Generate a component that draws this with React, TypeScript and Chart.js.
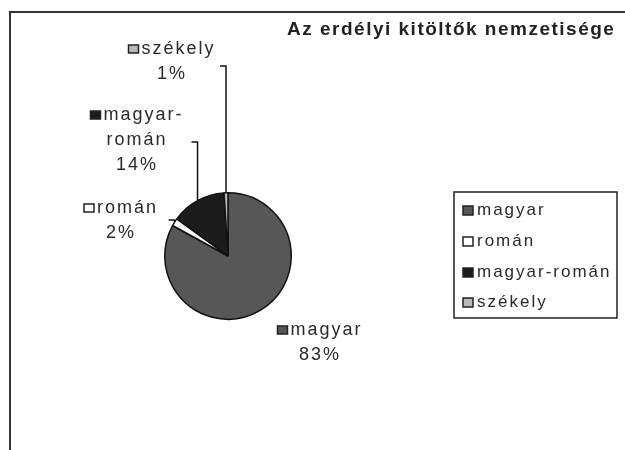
import { useEffect, useRef } from "react";
import { Chart, registerables } from "chart.js";

Chart.register(...registerables);

const categories = ["magyar", "román", "magyar-román", "székely"];
const shares = [83, 2, 14, 1];
const sliceColors = ["#575757", "#ffffff", "#1c1c1c", "#b8b8b8"];
const titleText = "Az erdélyi kitöltők nemzetisége";

const labelPlacement = [
  { cx: 320, y: 330, ey: null as number | null },
  { cx: 121, y: 208, ey: 220 as number | null },
  { cx: 137, y: 115, ey: 142 as number | null },
  { cx: 172, y: 49, ey: 66 as number | null },
];

const FONT = "'Liberation Sans', Arial, sans-serif";

const decor = {
  id: "decor",
  afterDraw(chart: any) {
    const ctx: CanvasRenderingContext2D = chart.ctx;
    ctx.save();
    // outer frame
    ctx.strokeStyle = "#333";
    ctx.lineWidth = 2;
    ctx.strokeRect(10, 12, 700, 500);

    // title
    ctx.fillStyle = "#222";
    ctx.textBaseline = "middle";
    ctx.textAlign = "left";
    ctx.font = `bold 19px ${FONT}`;
    (ctx as any).letterSpacing = "1.5px";
    ctx.fillText(titleText, 287, 30);

    // slice labels
    const meta = chart.getDatasetMeta(0);
    const total = shares.reduce((a, b) => a + b, 0);
    ctx.font = `18px ${FONT}`;
    (ctx as any).letterSpacing = "2px";
    meta.data.forEach((arc: any, i: number) => {
      const { startAngle, endAngle, outerRadius, x, y } = arc.getProps(
        ["startAngle", "endAngle", "outerRadius", "x", "y"],
        true
      );
      const mid = (startAngle + endAngle) / 2;
      const ax = x + Math.cos(mid) * outerRadius;
      const ay = y + Math.sin(mid) * outerRadius;
      const p = labelPlacement[i];
      ctx.strokeStyle = "#111";
      ctx.lineWidth = 1.5;
      if (p.ey !== null) {
        ctx.beginPath();
        ctx.moveTo(ax, ay);
        ctx.lineTo(ax, p.ey);
        ctx.lineTo(ax - 6, p.ey);
        ctx.stroke();
      }
      const name = categories[i];
      const hy = name.indexOf("-");
      const parts = hy >= 0 ? [name.slice(0, hy + 1), name.slice(hy + 1)] : [name];
      const pct = Math.round((shares[i] / total) * 100) + "%";
      const lines = [...parts, pct];
      const sq = 10;
      const gap = 3;
      const w0 = ctx.measureText(lines[0]).width;
      const left = p.cx - (sq + gap + w0) / 2;
      ctx.fillStyle = sliceColors[i];
      ctx.fillRect(left, p.y - 4, sq, 8);
      ctx.lineWidth = 1.5;
      ctx.strokeStyle = "#222";
      ctx.strokeRect(left, p.y - 4, sq, 8);
      ctx.fillStyle = "#2a2a2a";
      ctx.textAlign = "left";
      ctx.fillText(lines[0], left + sq + gap, p.y);
      ctx.textAlign = "center";
      for (let k = 1; k < lines.length; k++) {
        ctx.fillText(lines[k], p.cx, p.y + k * 25);
      }
    });

    // legend
    ctx.strokeStyle = "#222";
    ctx.lineWidth = 1.5;
    ctx.strokeRect(454, 192, 163, 126);
    ctx.font = `17px ${FONT}`;
    (ctx as any).letterSpacing = "2px";
    ctx.textAlign = "left";
    const rowY = [210, 241, 272, 302];
    categories.forEach((c, i) => {
      ctx.fillStyle = sliceColors[i];
      ctx.fillRect(463, rowY[i] - 4, 10, 9);
      ctx.strokeStyle = "#222";
      ctx.strokeRect(463, rowY[i] - 4, 10, 9);
      ctx.fillStyle = "#2a2a2a";
      ctx.fillText(c, 477, rowY[i]);
    });
    ctx.restore();
  },
};

export default function App() {
  const ref = useRef<HTMLCanvasElement | null>(null);
  useEffect(() => {
    if (!ref.current) return;
    const chart = new Chart(ref.current, {
      type: "pie",
      data: {
        labels: categories,
        datasets: [
          {
            data: shares,
            backgroundColor: sliceColors,
            borderColor: "#111",
            borderWidth: 1.5,
          },
        ],
      },
      options: {
        responsive: false,
        animation: false,
        events: [],
        layout: { padding: { left: 164, right: 333, top: 192, bottom: 130 } },
        plugins: {
          legend: { display: false },
          title: { display: false },
          tooltip: { enabled: false },
        },
      },
      plugins: [decor],
    });
    return () => chart.destroy();
  }, []);
  return (
    <div style={{ position: "fixed", left: 0, top: 0, width: 625, height: 450, background: "#fff" }}>
      <canvas ref={ref} width={625} height={450} />
    </div>
  );
}
